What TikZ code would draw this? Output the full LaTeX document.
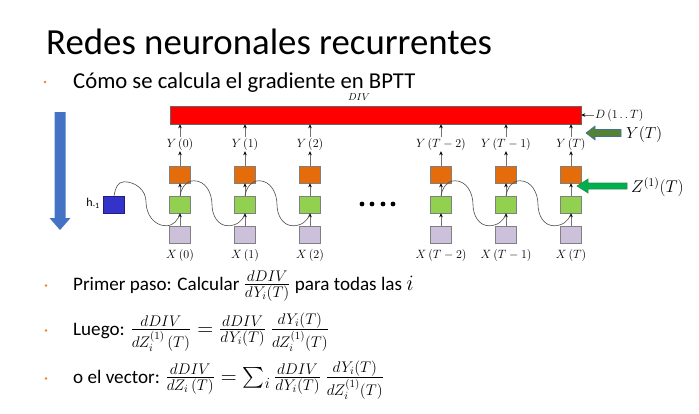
\RequirePackage{fix-cm}
\documentclass[tikz,border=0pt]{standalone}
\usepackage{amsmath}
\usepackage{fontspec}
\setmainfont{Carlito}
\usetikzlibrary{arrows.meta,calc}

\definecolor{outC}{HTML}{E46C0A}
\definecolor{hidC}{HTML}{92D050}
\definecolor{inC}{HTML}{CCC0DA}
\definecolor{hC}{HTML}{3333CC}
\definecolor{bigC}{HTML}{4472C4}
\definecolor{bulC}{HTML}{ED7D31}
\definecolor{oliveC}{HTML}{548235}
\definecolor{oliveE}{HTML}{41719C}
\definecolor{zC}{HTML}{00B050}
\definecolor{zE}{HTML}{2E8B3E}
\definecolor{boxE}{HTML}{808080}

% formulas inside the bullet lines are set a little larger than the words
\newcommand\bigmath[1]{{\fontsize{22}{26}\selectfont$#1$}}

\tikzset{
  cell/.style={rectangle, minimum width=21pt, minimum height=17pt, inner sep=0pt,
               draw=boxE, line width=0.5pt},
  outbox/.style={cell, fill=outC},
  hidbox/.style={cell, fill=hidC},
  inbox/.style={cell, fill=inC},
  hbox/.style={cell, fill=hC, draw=hC!60!black},
  arr/.style={draw=black!55, line width=0.6pt,
              -{Stealth[black,length=4pt,width=3.6pt]}},
  rec/.style={draw=black!70, line width=0.6pt},
  lbl/.style={inner sep=1pt, font=\fontsize{12}{14}\selectfont},
  txt/.style={inner sep=0pt, font=\fontsize{19.1}{23}\selectfont},
  bul/.style={fill=bulC},
}

\begin{document}
\begin{tikzpicture}[x=1pt,y=1pt]
\useasboundingbox (0,0) rectangle (699,-413);

% headings
\node[inner sep=0pt, anchor=base west, font=\fontsize{36.8}{42}\selectfont]
  (title) at (46,-54) {Redes neuronales recurrentes};
\fill[bul] (45,-82) circle (1.3pt);
\node[inner sep=0pt, anchor=base west, font=\fontsize{22.7}{27}\selectfont]
  (sub) at (73,-88) {Cómo se calcula el gradiente en BPTT};

% divergence bar
\node[draw=black!60, line width=0.5pt, fill=red, minimum width=411pt,
      minimum height=18pt, inner sep=0pt] (bar) at (375.5,-115) {};
\node[lbl, font=\fontsize{10}{12}\selectfont] (divlab) at (359,-97) {$DIV$};
\node[lbl, anchor=west] (dlab) at (594,-115) {$D\,(1\,.\,.\,T)$};
\draw[arr] (dlab) -- (bar.east);

% unrolled network columns
\foreach \x/\n/\t in {180/0/0, 245/1/1, 310/2/2, 441/3/T-2, 506/4/T-1, 571/5/T}{
  \node[outbox] (o\n) at (\x,-174.5) {};
  \node[hidbox] (g\n) at (\x,-204.5) {};
  \node[inbox]  (i\n) at (\x,-234.5) {};
  \node[lbl] (y\n) at (\x,-144) {$Y\,(\t)$};
  \node[lbl] (xl\n) at (\x,-255) {$X\,(\t)$};
  \draw[arr] (i\n) -- (g\n);
  \draw[arr] (g\n) -- (o\n);
  \draw[arr] (o\n) -- (y\n);
  \draw[arr] (y\n) -- (y\n |- bar.south);
}

% initial hidden state
\node[hbox] (h) at (114,-204.5) {};
\node[inner sep=0pt, font=\fontsize{12}{14}\selectfont] (hlab) at (93,-203) {h\textsubscript{-1}};

% recurrent connections
\draw[rec] (h.north) to[out=80,in=180] ++(10,14) to[out=0,in=90] ++(22,-20)
  to[out=-90,in=180] ++(20,-24) to[out=0,in=-105] (g0.south);
\foreach \a/\b in {0/1, 1/2, 3/4, 4/5}{
  \draw[rec] (g\a.north) to[out=80,in=180] ++(14,15) to[out=0,in=90] ++(18,-24)
    to[out=-90,in=180] ++(16,-21) to[out=0,in=-105] (g\b.south);
}

% ellipsis between time steps
\foreach \d in {362,372,383,393}{
  \fill[black] (\d,-204) circle (2.4pt);
}

% backward direction arrow
\fill[bigC] (54.5,-112) -- (65.5,-112) -- (65.5,-218) -- (70.5,-218) -- (60,-230)
  -- (49.5,-218) -- (54.5,-218) -- cycle;

% pointer to the last output
\filldraw[fill=oliveC, draw=oliveE, line width=0.6pt]
  (586,-133) -- (595,-126) -- (595,-129.5) -- (621,-129.5) -- (621,-136.5)
  -- (595,-136.5) -- (595,-140) -- cycle;
\node[inner sep=0pt, anchor=west, font=\fontsize{16}{19}\selectfont] (ytl) at (626,-134) {$Y(T)$};

% pointer to the last pre-activation
\filldraw[fill=zC, draw=zE, line width=0.6pt]
  (577,-186) -- (588,-179) -- (588,-183) -- (627,-183) -- (627,-189)
  -- (588,-189) -- (588,-193) -- cycle;
\node[inner sep=0pt, anchor=west, font=\fontsize{17}{20}\selectfont] (ztl) at (631,-187) {$Z^{(1)}(T)$};

% derivation steps
\fill[bul] (46,-285.5) circle (1.3pt);
\node[txt, anchor=base west] (l1) at (73,-290)
  {Primer paso: Calcular \bigmath{\frac{dDIV}{dY_i(T)}} para todas las \bigmath{i}};
\fill[bul] (46,-330.5) circle (1.3pt);
\node[txt, anchor=base west] (l2) at (73,-335)
  {Luego: \bigmath{\frac{dDIV}{dZ_i^{(1)}\,(T)} = \frac{dDIV}{dY_i(T)}\mkern4mu\frac{dY_i(T)}{dZ_i^{(1)}(T)}}};
\fill[bul] (46,-378.5) circle (1.3pt);
\node[txt, anchor=base west] (l3) at (73,-383)
  {o el vector: \bigmath{\frac{dDIV}{dZ_i\,(T)} = \sum\nolimits_i \frac{dDIV}{dY_i(T)}\mkern4mu\frac{dY_i(T)}{dZ_i^{(1)}(T)}}};
\end{tikzpicture}
\end{document}
